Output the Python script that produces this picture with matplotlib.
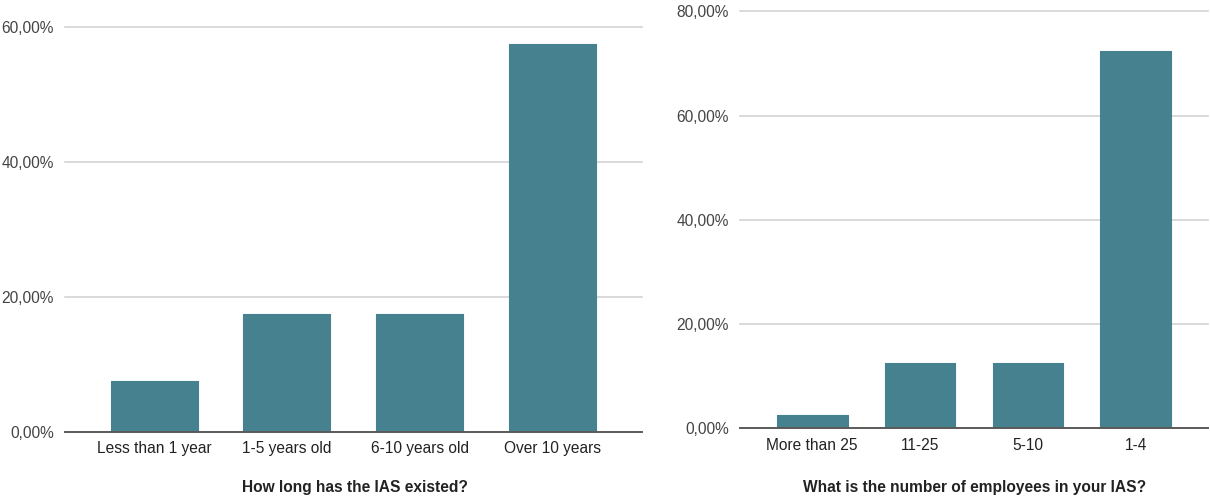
import matplotlib
matplotlib.use("Agg")
import matplotlib.pyplot as plt
from matplotlib.ticker import FuncFormatter

plt.rcParams['font.family'] = ['Liberation Sans', 'DejaVu Sans']

# Survey data
age_categories = ["Less than 1 year", "1-5 years old", "6-10 years old", "Over 10 years"]
age_values = [7.5, 17.5, 17.5, 57.5]
age_ticks = [0, 20, 40, 60]
age_title = "How long has the IAS existed?"

staff_categories = ["More than 25", "11-25", "5-10", "1-4"]
staff_values = [2.5, 12.5, 12.5, 72.5]
staff_ticks = [0, 20, 40, 60, 80]
staff_title = "What is the number of employees in your IAS?"

BAR_COLOR = "#45818e"
GRID_COLOR = "#d0d0d0"
BASE_COLOR = "#5a5a5a"
TICK_COLOR = "#444444"
LABEL_COLOR = "#222222"
FONT_SIZE = 11.2

W, H = 1210, 497
fig = plt.figure(figsize=(W / 100, H / 100), dpi=100)


def pct(v, _pos=None):
    return f"{v:.2f}%".replace(".", ",")


def draw_panel(rect, cats, vals, ticks, title, title_x):
    ax = fig.add_axes(rect)
    x = list(range(len(cats)))
    ax.bar(x, vals, width=0.655, color=BAR_COLOR, edgecolor=BAR_COLOR,
           linewidth=0.8, joinstyle="round", zorder=3)
    ax.set_xlim(-0.67, len(cats) - 1 + 0.67)
    ax.set_ylim(ticks[0], ticks[-1])
    for t in ticks[1:]:
        ax.axhline(t, color=GRID_COLOR, linewidth=1.1, zorder=1, clip_on=False)
    ax.axhline(0, color=BASE_COLOR, linewidth=1.4, zorder=4, clip_on=False)
    ax.set_yticks(ticks)
    ax.yaxis.set_major_formatter(FuncFormatter(pct))
    ax.set_xticks(x)
    ax.set_xticklabels(cats)
    ax.tick_params(axis="y", length=0, pad=8, labelsize=FONT_SIZE, labelcolor=TICK_COLOR)
    ax.tick_params(axis="x", length=0, pad=7, labelsize=FONT_SIZE, labelcolor=LABEL_COLOR)
    for s in ax.spines.values():
        s.set_visible(False)
    fig.text(title_x, 0.02, title, ha="center", va="center",
             fontsize=FONT_SIZE, fontweight="bold", color=LABEL_COLOR)
    return ax


draw_panel([65 / W, 65.5 / H, 576.7 / W, 404.5 / H],
           age_categories, age_values, age_ticks, age_title, 355 / W)
draw_panel([740 / W, 68.7 / H, 468 / W, 416.8 / H],
           staff_categories, staff_values, staff_ticks, staff_title, 975 / W)

fig.savefig("out.png", dpi=100, facecolor="white")
